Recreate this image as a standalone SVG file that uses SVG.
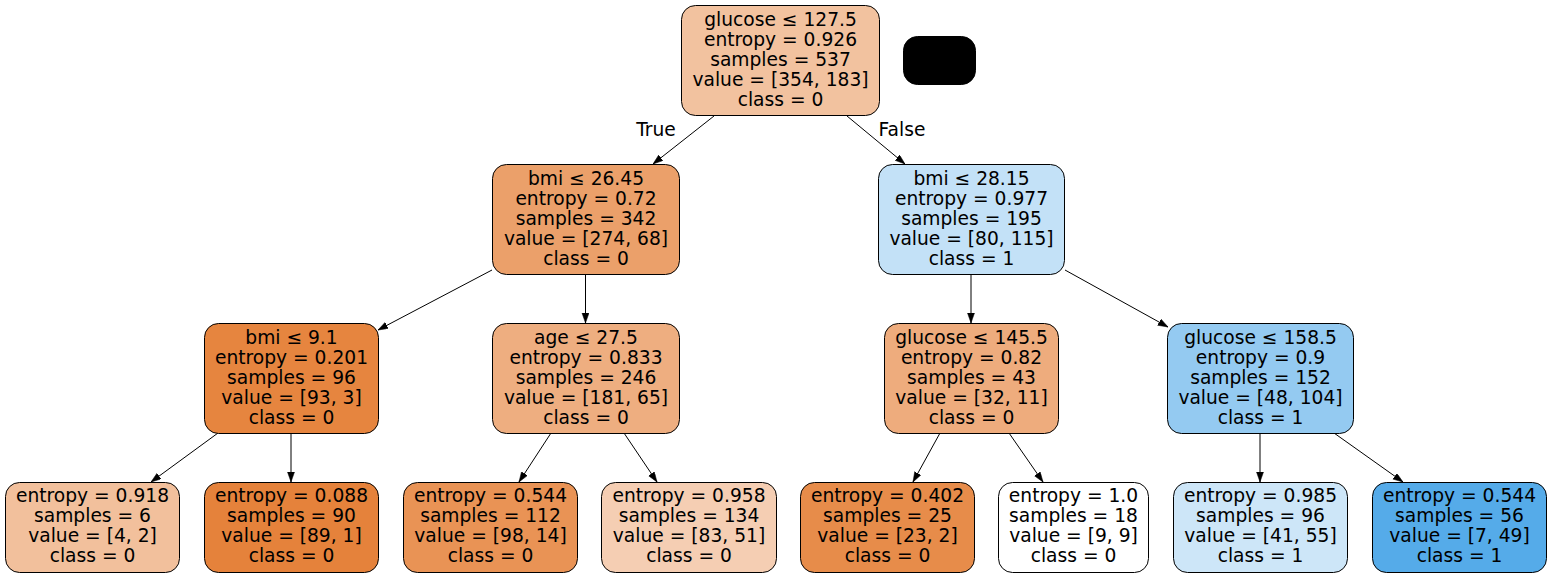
<svg xmlns="http://www.w3.org/2000/svg" width="1552" height="577" viewBox="0 0 1552 577">
<style>
.n{stroke:#000;stroke-width:1}
text{font-family:"DejaVu Sans",sans-serif;font-size:18.67px;fill:#000;text-anchor:middle}
.e{stroke:#000;stroke-width:1;fill:none;marker-end:url(#ah)}
</style>
<defs>
<marker id="ah" markerUnits="userSpaceOnUse" markerWidth="10" markerHeight="8" refX="10" refY="3.5" orient="auto">
<path d="M0,0 L10,3.5 L0,7 Z" fill="#000" stroke="#000" stroke-width="0.5"/>
</marker>
</defs>
<rect width="1552" height="577" fill="#fff"/>
<g id="edges">
<line class="e" x1="714" y1="116" x2="653" y2="164"/>
<line class="e" x1="847" y1="116" x2="905" y2="164"/>
<line class="e" x1="492" y1="270" x2="378" y2="330"/>
<line class="e" x1="585.5" y1="274" x2="585.5" y2="323"/>
<line class="e" x1="971" y1="274" x2="971" y2="323"/>
<line class="e" x1="1065" y1="270" x2="1168" y2="327"/>
<line class="e" x1="218" y1="433" x2="151" y2="482"/>
<line class="e" x1="291" y1="433" x2="291" y2="482"/>
<line class="e" x1="551" y1="433" x2="519" y2="482"/>
<line class="e" x1="624" y1="433" x2="657" y2="482"/>
<line class="e" x1="940" y1="433" x2="913" y2="482"/>
<line class="e" x1="1009" y1="433" x2="1043" y2="482"/>
<line class="e" x1="1260" y1="433" x2="1260" y2="482"/>
<line class="e" x1="1334" y1="433" x2="1403" y2="482"/>
<text x="656" y="136">True</text>
<text x="902" y="136">False</text>
</g>
<g id="n0">
<rect class="n" x="681.5" y="5.5" width="198" height="110" rx="14" fill="#f2c29f"/>
<text x="780.5" y="26">glucose ≤ 127.5</text>
<text x="780.5" y="46">entropy = 0.926</text>
<text x="780.5" y="66">samples = 537</text>
<text x="780.5" y="86">value = [354, 183]</text>
<text x="780.5" y="106">class = 0</text>
</g>
<g id="legend">
<rect x="903.5" y="36.5" width="72" height="48" rx="14" fill="#000" stroke="#000"/>
</g>
<g id="n1">
<rect class="n" x="492.5" y="164.5" width="187" height="110" rx="14" fill="#eba06a"/>
<text x="586" y="185">bmi ≤ 26.45</text>
<text x="586" y="205">entropy = 0.72</text>
<text x="586" y="225">samples = 342</text>
<text x="586" y="245">value = [274, 68]</text>
<text x="586" y="265">class = 0</text>
</g>
<g id="n8">
<rect class="n" x="878.5" y="164.5" width="186" height="110" rx="14" fill="#c3e1f7"/>
<text x="971.5" y="185">bmi ≤ 28.15</text>
<text x="971.5" y="205">entropy = 0.977</text>
<text x="971.5" y="225">samples = 195</text>
<text x="971.5" y="245">value = [80, 115]</text>
<text x="971.5" y="265">class = 1</text>
</g>
<g id="n2">
<rect class="n" x="204.5" y="323.5" width="174" height="110" rx="14" fill="#e6853f"/>
<text x="291.5" y="344">bmi ≤ 9.1</text>
<text x="291.5" y="364">entropy = 0.201</text>
<text x="291.5" y="384">samples = 96</text>
<text x="291.5" y="404">value = [93, 3]</text>
<text x="291.5" y="424">class = 0</text>
</g>
<g id="n5">
<rect class="n" x="492.5" y="323.5" width="187" height="110" rx="14" fill="#eeae80"/>
<text x="586" y="344">age ≤ 27.5</text>
<text x="586" y="364">entropy = 0.833</text>
<text x="586" y="384">samples = 246</text>
<text x="586" y="404">value = [181, 65]</text>
<text x="586" y="424">class = 0</text>
</g>
<g id="n9">
<rect class="n" x="884.5" y="323.5" width="174" height="110" rx="14" fill="#eeac7d"/>
<text x="971.5" y="344">glucose ≤ 145.5</text>
<text x="971.5" y="364">entropy = 0.82</text>
<text x="971.5" y="384">samples = 43</text>
<text x="971.5" y="404">value = [32, 11]</text>
<text x="971.5" y="424">class = 0</text>
</g>
<g id="n12">
<rect class="n" x="1167.5" y="323.5" width="186" height="110" rx="14" fill="#94caf1"/>
<text x="1260.5" y="344">glucose ≤ 158.5</text>
<text x="1260.5" y="364">entropy = 0.9</text>
<text x="1260.5" y="384">samples = 152</text>
<text x="1260.5" y="404">value = [48, 104]</text>
<text x="1260.5" y="424">class = 1</text>
</g>
<g id="n3">
<rect class="n" x="5.5" y="482.5" width="174" height="90" rx="14" fill="#f2c09c"/>
<text x="92.5" y="502">entropy = 0.918</text>
<text x="92.5" y="522">samples = 6</text>
<text x="92.5" y="542">value = [4, 2]</text>
<text x="92.5" y="562">class = 0</text>
</g>
<g id="n4">
<rect class="n" x="204.5" y="482.5" width="174" height="90" rx="14" fill="#e5823b"/>
<text x="291.5" y="502">entropy = 0.088</text>
<text x="291.5" y="522">samples = 90</text>
<text x="291.5" y="542">value = [89, 1]</text>
<text x="291.5" y="562">class = 0</text>
</g>
<g id="n6">
<rect class="n" x="403.5" y="482.5" width="174" height="90" rx="14" fill="#e99355"/>
<text x="490.5" y="502">entropy = 0.544</text>
<text x="490.5" y="522">samples = 112</text>
<text x="490.5" y="542">value = [98, 14]</text>
<text x="490.5" y="562">class = 0</text>
</g>
<g id="n7">
<rect class="n" x="601.5" y="482.5" width="175" height="90" rx="14" fill="#f5ceb3"/>
<text x="689" y="502">entropy = 0.958</text>
<text x="689" y="522">samples = 134</text>
<text x="689" y="542">value = [83, 51]</text>
<text x="689" y="562">class = 0</text>
</g>
<g id="n10">
<rect class="n" x="800.5" y="482.5" width="174" height="90" rx="14" fill="#e78c4a"/>
<text x="887.5" y="502">entropy = 0.402</text>
<text x="887.5" y="522">samples = 25</text>
<text x="887.5" y="542">value = [23, 2]</text>
<text x="887.5" y="562">class = 0</text>
</g>
<g id="n11">
<rect class="n" x="998.5" y="482.5" width="150" height="90" rx="14" fill="#ffffff"/>
<text x="1073.5" y="502">entropy = 1.0</text>
<text x="1073.5" y="522">samples = 18</text>
<text x="1073.5" y="542">value = [9, 9]</text>
<text x="1073.5" y="562">class = 0</text>
</g>
<g id="n13">
<rect class="n" x="1173.5" y="482.5" width="174" height="90" rx="14" fill="#cde6f8"/>
<text x="1260.5" y="502">entropy = 0.985</text>
<text x="1260.5" y="522">samples = 96</text>
<text x="1260.5" y="542">value = [41, 55]</text>
<text x="1260.5" y="562">class = 1</text>
</g>
<g id="n14">
<rect class="n" x="1372.5" y="482.5" width="174" height="90" rx="14" fill="#55abe9"/>
<text x="1459.5" y="502">entropy = 0.544</text>
<text x="1459.5" y="522">samples = 56</text>
<text x="1459.5" y="542">value = [7, 49]</text>
<text x="1459.5" y="562">class = 1</text>
</g>
</svg>
